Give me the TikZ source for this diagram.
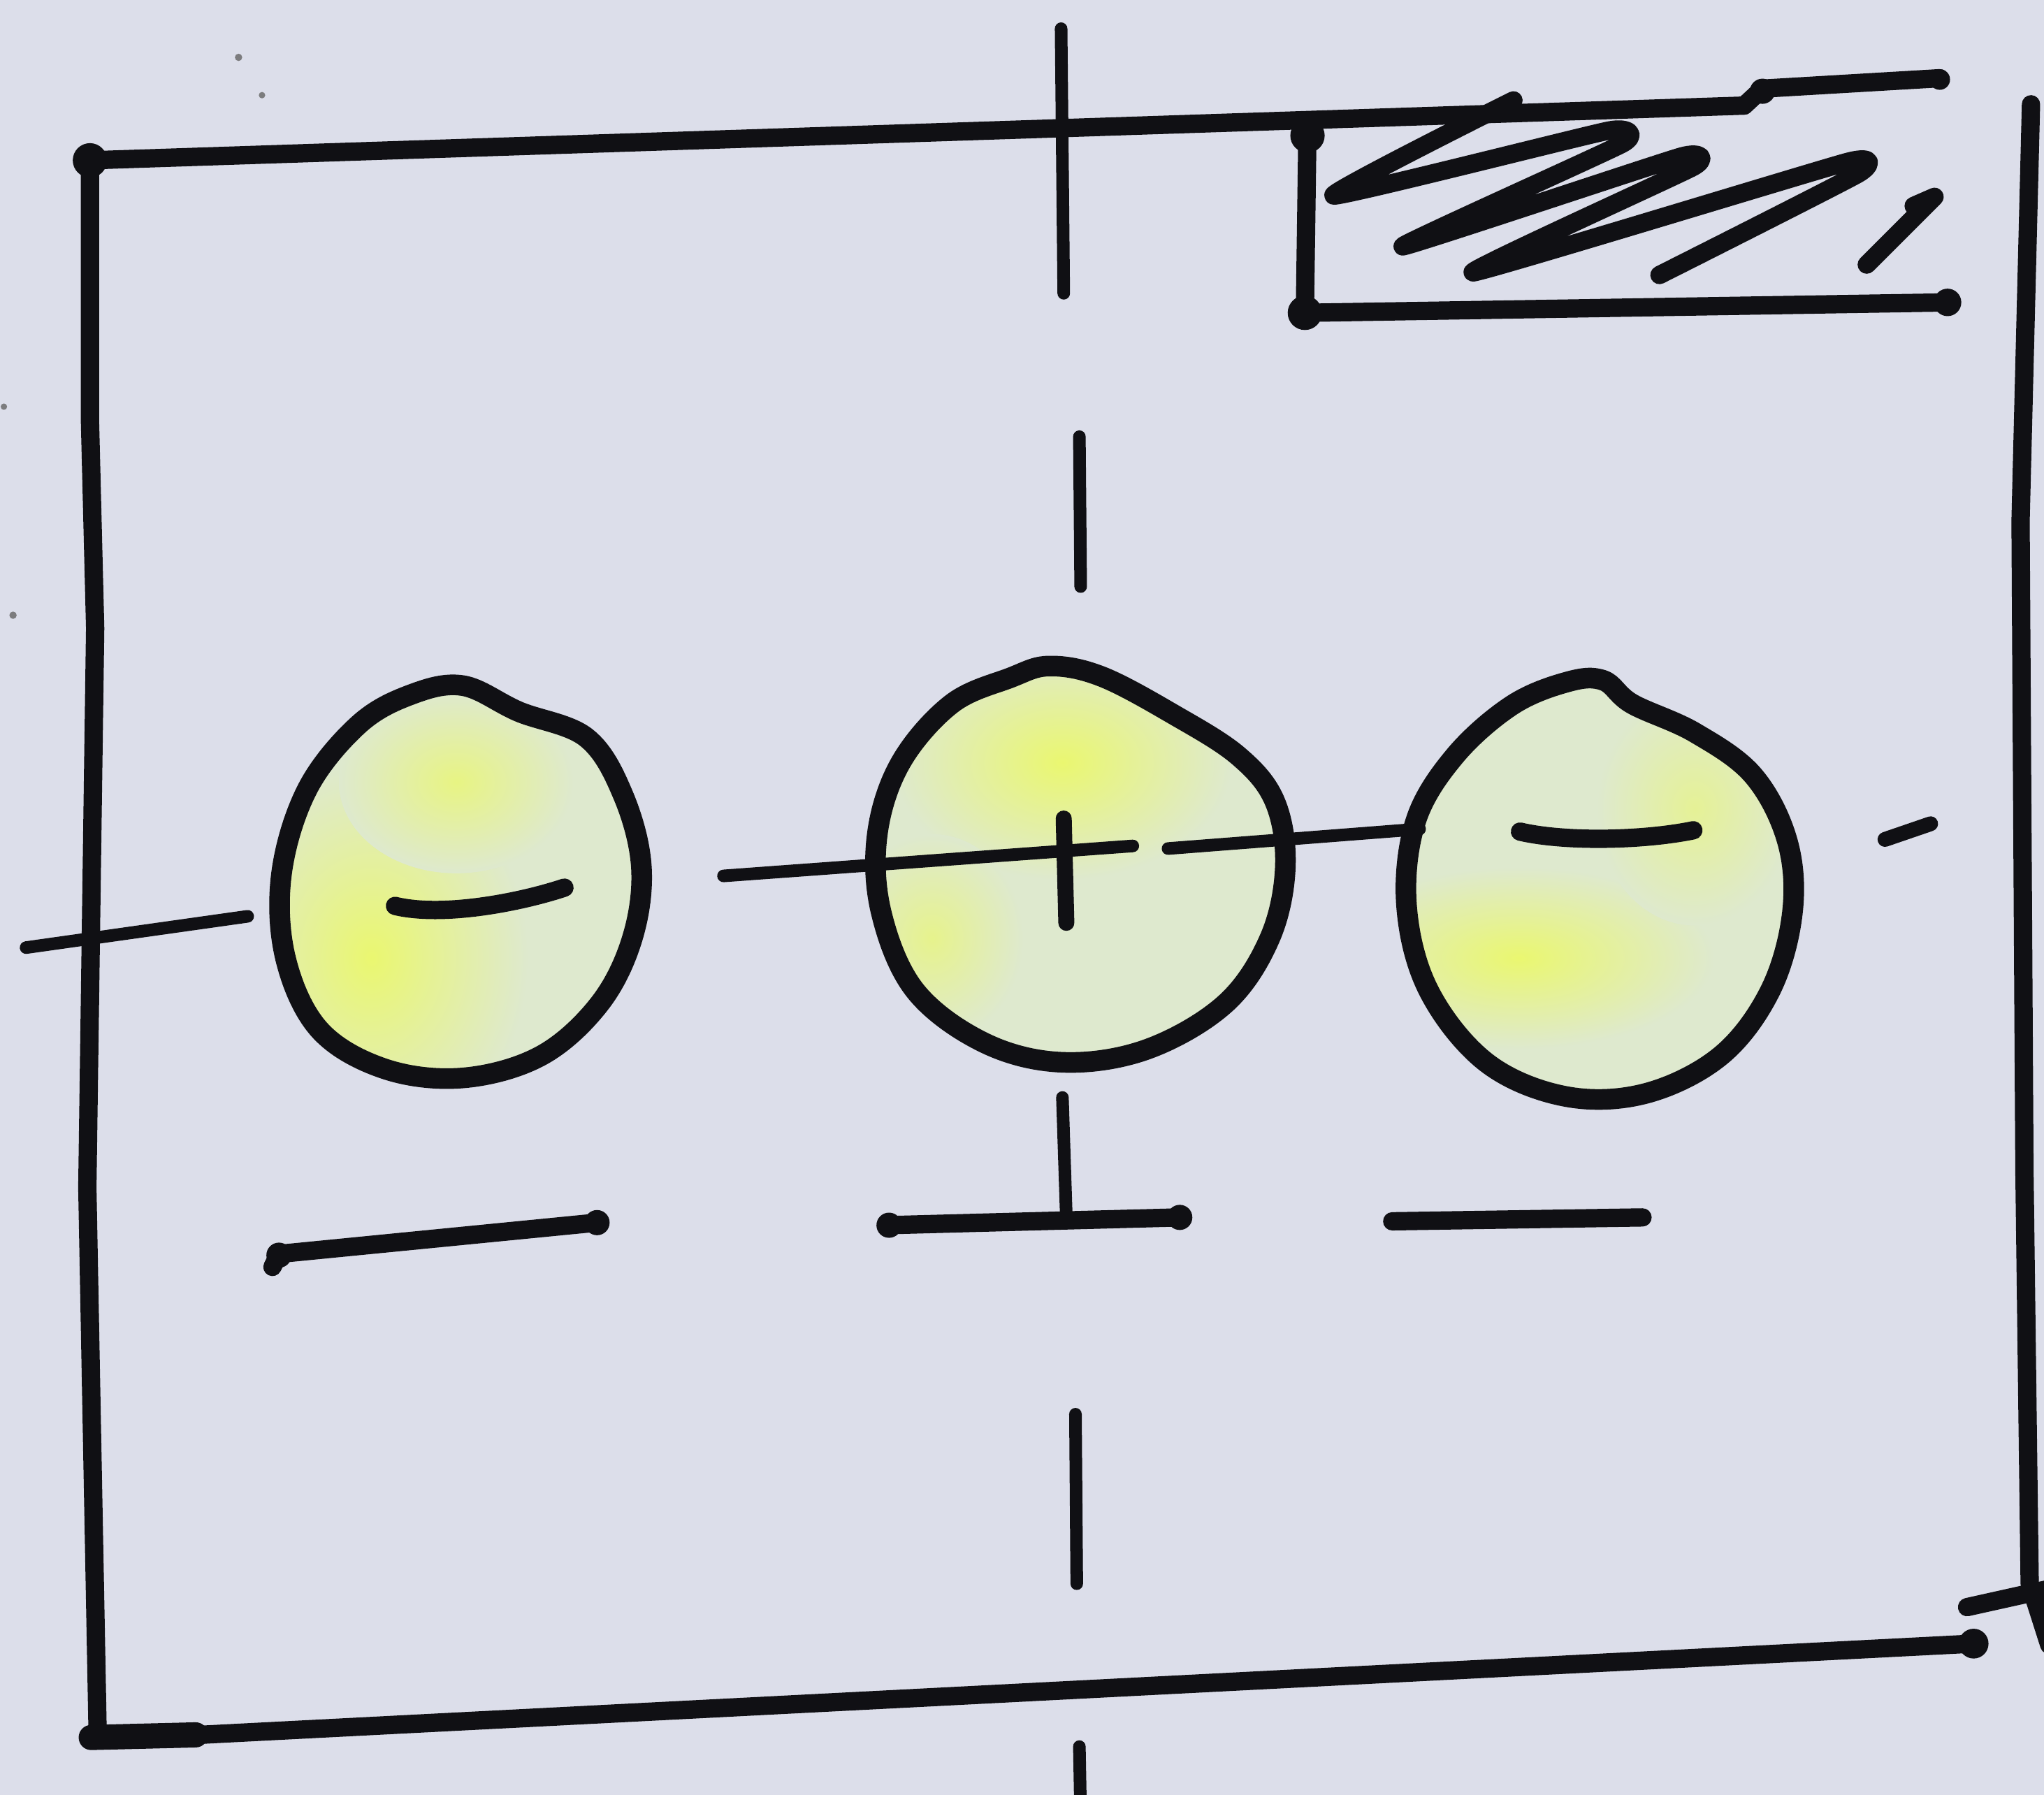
\documentclass[tikz,border=0pt]{standalone}
\usetikzlibrary{calc}
\definecolor{paper}{RGB}{220,222,234}
\definecolor{ink}{RGB}{16,16,20}
\definecolor{pale}{RGB}{222,233,206}
\definecolor{hi}{RGB}{234,247,112}
\tikzset{
  frame/.style={ink, line width=8pt, line cap=round, line join=round},
  axis/.style={ink, line width=5.5pt, line cap=round},
  ring/.style={ink, line width=9pt, line join=round},
  blob/.style={fill=ink}
}
\newcommand\lcirc{plot[smooth cycle,tension=0.6] coordinates {(355,526) (398,546) (450,566) (478,610) (492,665) (485,720) (460,770) (415,810) (355,827) (295,820) (245,790) (219,735) (216,670) (236,605) (275,556) (315,533)}}
\newcommand\ccirc{plot[smooth cycle,tension=0.6] coordinates {(805,511) (845,519) (900,548) (950,580) (978,615) (986,665) (974,720) (940,770) (880,805) (815,815) (755,800) (702,760) (676,700) (673,640) (691,585) (730,540) (775,520)}}
\newcommand\rcirc{plot[smooth cycle,tension=0.6] coordinates {(1230,522) (1252,540) (1300,562) (1345,595) (1371,645) (1375,700) (1358,760) (1320,810) (1262,839) (1200,841) (1140,815) (1096,760) (1079,695) (1086,630) (1116,580) (1160,541) (1203,523)}}
\begin{document}
\begin{tikzpicture}[x=0.02cm,y=-0.02cm]
\fill[paper] (0,0) rectangle (1568,1377);
\useasboundingbox (0,0) rectangle (1568,1377);

% paper specks
\fill[ink!55] (183,44) circle (1.6pt);
\fill[ink!55] (201,73) circle (1.4pt);
\fill[ink!55] (3,312) circle (1.4pt);
\fill[ink!55] (10,472) circle (1.6pt);

% circles: fills
\fill[pale] \lcirc;
\fill[pale] \ccirc;
\fill[pale] \rcirc;
\begin{scope}
\clip \lcirc;
\shade[inner color=hi, outer color=pale] (285,735) ellipse [x radius=2.4cm, y radius=3.0cm];
\shade[inner color=hi!80!pale, outer color=pale] (350,600) ellipse [x radius=1.8cm, y radius=1.4cm];
\end{scope}
\begin{scope}
\clip \ccirc;
\shade[inner color=hi, outer color=pale] (815,585) ellipse [x radius=2.6cm, y radius=1.8cm];
\shade[inner color=hi!70!pale, outer color=pale] (715,720) ellipse [x radius=1.4cm, y radius=1.6cm];
\end{scope}
\begin{scope}
\clip \rcirc;
\shade[inner color=hi, outer color=pale] (1165,735) ellipse [x radius=3.0cm, y radius=1.4cm];
\shade[inner color=hi!60!pale, outer color=pale] (1300,620) ellipse [x radius=1.5cm, y radius=1.8cm];
\end{scope}

% axes (dash-dot centre lines)
\draw[axis] (814,22) -- (816,225);
\draw[axis] (828,335) -- (829,450);
\draw[axis] (825,1085) -- (826,1215);
\draw[axis] (828,1340) -- (829,1395);
\draw[axis] (20,727) -- (190,703);
\draw[axis] (555,672) -- (869,649);
\draw[axis] (896,651) -- (1089,636);
\draw[axis, line width=6.5pt] (1446,644) -- (1481,632);
\draw[axis, line width=7pt] (816,628) -- (818,708);

% circle outlines
\draw[ring] \lcirc;
\draw[ring] \ccirc;
\draw[ring] \rcirc;

% minus signs
\draw[ink, line width=8pt, line cap=round] (303,695) .. controls (340,704) and (400,692) .. (433,681);
\draw[ink, line width=8pt, line cap=round] (1166,638) .. controls (1200,646) and (1260,645) .. (1299,637);

% lower marks
\draw[frame] (209,972) -- (214,962) -- (458,938);
\draw[frame] (680,940) -- (905,934);
\draw[axis] (815,842) -- (818,934);
\draw[frame] (1068,937) -- (1260,934);
\fill[blob] (214,963) circle (5.5pt);
\fill[blob] (458,938) circle (5.5pt);
\fill[blob] (682,940) circle (5.5pt);
\fill[blob] (905,934) circle (5.5pt);

% outer frame
\draw[frame] (1338,81) -- (69,123) -- (69,322) -- (73,482) -- (67,911) -- (75,1335) -- (1514,1261);
\draw[frame] (1338,81) -- (1352,68) -- (1488,60);
\draw[frame] (1558,80) -- (1550,400) -- (1553,900) -- (1557,1215) -- (1572,1262);
\draw[frame] (1509,1233) -- (1572,1219);
\draw[frame, line width=11pt] (70,1333) -- (150,1331);
\fill[blob] (69,123) circle (7.5pt);
\fill[blob] (1514,1261) circle (6.5pt);
\fill[blob] (1352,70) circle (5.5pt);
\fill[blob] (1488,61) circle (4.5pt);

% title block
\draw[frame] (1003,98) -- (1001,240) -- (1494,232);
\fill[blob] (1003,104) circle (7.5pt);
\fill[blob] (1001,240) circle (7.5pt);
\fill[blob] (1494,232) circle (6pt);
\draw[frame] plot[smooth, tension=0.25] coordinates {(1161,77) (1023,150) (1235,100) (1245,110) (1076,189) (1290,120) (1299,128) (1130,209) (1418,124) (1426,133) (1273,211)};
\draw[frame] (1468,158) -- (1484,151) -- (1432,203);
\end{tikzpicture}
\end{document}
